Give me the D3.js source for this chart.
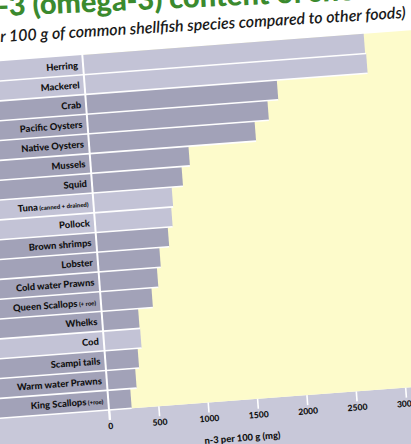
<!DOCTYPE html>
<html lang="en">
<head>
  <meta charset="utf-8" />
  <title>n-3 content of shellfish</title>
  <script src="https://d3js.org/d3.v7.min.js"></script>
  <style>
    body {
      margin: 0;
      padding: 0;
      background: #ffffff;
      overflow: hidden;
    }
    .row-label {
      font-family: Lato, "Open Sans", Arial, sans-serif;
      font-weight: 900;
      font-size: 9.4px;
      fill: #111;
    }
    .axis text {
      font-family: Lato, "Open Sans", Arial, sans-serif;
      font-weight: 900;
      font-size: 8.6px;
      fill: #111;
    }
    .axis line {
      stroke: #ffffff;
      stroke-width: 1.6;
    }
  </style>
</head>
<body>

<div id="chart"></div>

<script>
// ---- data ----
const foods = ["Herring", "Mackerel", "Crab", "Pacific Oysters", "Native Oysters",
  "Mussels", "Squid", "Tuna", "Pollock", "Brown shrimps", "Lobster",
  "Cold water Prawns", "Queen Scallops", "Whelks", "Cod", "Scampi tails",
  "Warm water Prawns", "King Scallops"];
const notes = ["", "", "", "", "", "", "", "(canned + drained)", "", "", "", "",
  "(+ roe)", "", "", "", "", "(+roe)"];
const n3 = [2850, 2860, 1940, 1830, 1685, 1000, 915, 800, 780, 730, 630, 590,
  520, 370, 375, 335, 295, 230];
// "other foods" (fish) are drawn lighter than shellfish
const kind = ["fish", "fish", "shell", "shell", "shell", "shell", "shell", "fish",
  "fish", "shell", "shell", "shell", "shell", "shell", "fish", "shell", "shell", "shell"];
const tickValues = [0, 500, 1000, 1500, 2000, 2500, 3000];

const W = 411, H = 444;
const colors = { fish: "#c3c3d6", shell: "#a2a2b8" };

const svg = d3.select("#chart").append("svg")
  .attr("width", W)
  .attr("height", H);

// headline + subtitle (photo is tilted, so they are slightly rotated)
svg.append("text")
  .attr("transform", "translate(-18,17) rotate(-2.6)")
  .attr("font-family", "Lato, 'Open Sans', sans-serif")
  .attr("font-weight", 900)
  .attr("font-size", 29)
  .attr("fill", "#3b8a2e")
  .text("n-3 (omega-3) content of shellfish");

svg.append("text")
  .attr("transform", "translate(406,18) rotate(-3.4)")
  .attr("text-anchor", "end")
  .attr("font-family", "Lato, 'Open Sans', sans-serif")
  .attr("font-style", "italic")
  .attr("font-weight", 600)
  .attr("font-size", 16)
  .attr("fill", "#1a1a1a")
  .text("(per 100 g of common shellfish species compared to other foods)");

// chart panel, origin = zero value at bottom of the bars
const plotH = 356;
const g = svg.append("g")
  .attr("transform", "translate(109,410) rotate(-4.3)");

const x = d3.scaleLinear().domain([0, 3000]).range([0, 297]);
const y = d3.scaleBand().domain(foods).range([-plotH, 0]);

// axis band + yellow plot background
g.append("rect")
  .attr("x", -140).attr("y", 0)
  .attr("width", 500).attr("height", 80)
  .attr("fill", "#c8c8d9");
g.append("rect")
  .attr("x", 0).attr("y", -plotH)
  .attr("width", 360).attr("height", plotH)
  .attr("fill", "#fdfbcb");

// label column rows
g.selectAll(".label-bg")
  .data(foods)
  .enter()
  .append("rect")
    .attr("class", "label-bg")
    .attr("x", -140)
    .attr("y", d => y(d))
    .attr("width", 140)
    .attr("height", y.bandwidth())
    .attr("fill", (d, i) => colors[kind[i]]);

// bars
g.selectAll(".bar")
  .data(foods)
  .enter()
  .append("rect")
    .attr("class", "bar")
    .attr("x", 0)
    .attr("y", d => y(d))
    .attr("width", (d, i) => x(n3[i]))
    .attr("height", y.bandwidth())
    .attr("fill", (d, i) => colors[kind[i]]);

// white separators between rows
g.selectAll(".sep")
  .data(foods)
  .enter()
  .append("line")
    .attr("class", "sep")
    .attr("x1", -140)
    .attr("x2", (d, i) => x(Math.max(n3[i], n3[i + 1] || 0)))
    .attr("y1", d => y(d) + y.bandwidth())
    .attr("y2", d => y(d) + y.bandwidth())
    .attr("stroke", "#ffffff")
    .attr("stroke-width", 1.6);

// row labels
const labels = g.selectAll(".row-label")
  .data(foods)
  .enter()
  .append("text")
    .attr("class", "row-label")
    .attr("x", -5)
    .attr("y", d => y(d) + y.bandwidth() / 2)
    .attr("dy", "0.35em")
    .attr("text-anchor", "end");
labels.append("tspan").text(d => d);
labels.append("tspan")
  .attr("font-size", "6px")
  .text((d, i) => notes[i] ? " " + notes[i] : "");

// x axis
const axis = g.append("g")
  .attr("class", "axis")
  .call(d3.axisBottom(x)
    .tickValues(tickValues)
    .tickFormat(d3.format("d"))
    .tickSize(10)
    .tickPadding(3));
axis.select(".domain").remove();

// white zero line
g.append("line")
  .attr("x1", 0).attr("x2", 0)
  .attr("y1", -plotH).attr("y2", 10)
  .attr("stroke", "#ffffff")
  .attr("stroke-width", 2);

// axis title
g.append("text")
  .attr("x", 131)
  .attr("y", 41)
  .attr("text-anchor", "middle")
  .attr("font-family", "Lato, 'Open Sans', sans-serif")
  .attr("font-weight", 900)
  .attr("font-size", 9.4)
  .attr("fill", "#111")
  .text("n-3 per 100 g (mg)");
</script>

</body>
</html>
